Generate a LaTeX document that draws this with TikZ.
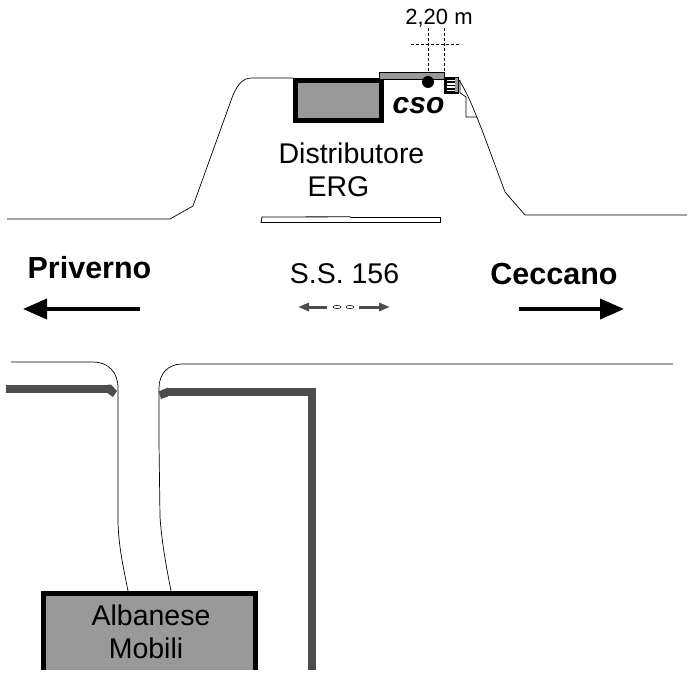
\documentclass[tikz,border=0pt]{standalone}
\usepackage{fontspec}
\setmainfont{Liberation Sans}
\usetikzlibrary{arrows.meta}
\definecolor{muro}{HTML}{4D4D4D}
\definecolor{edificio}{HTML}{999999}
\begin{document}
\begin{tikzpicture}[
  x=1pt, y=-1pt,
  every node/.style={inner sep=0pt, anchor=base, text=black},
  etichetta/.style={font=\fontsize{28.5}{30}\selectfont},
  citta/.style={font=\bfseries\fontsize{30.5}{32}\selectfont},
  strada/.style={draw=black, line width=0.7pt},
  muretto/.style={draw=muro, line width=8.5pt},
  blocco/.style={draw=black, fill=edificio, line width=4.5pt},
  freccia/.style={draw=black, line width=3.8pt, -{Triangle[length=24pt, width=20pt]}},
  frecciola/.style={draw=muro, line width=3pt, -{Triangle[length=11pt, width=8pt]}},
  quota/.style={draw=black, line width=0.6pt, densely dashed}
]
\useasboundingbox (0,0) rectangle (700,700);
% strada, lato nord
\draw[strada] (7,219) -- (170,219) -- (193,206) -- (233,95) .. controls (238,84) and (243,78) .. (252,78) -- (293,78);
\draw[strada] (459,80) .. controls (468,94) and (474,110) .. (482,130) -- (505,192) -- (525,215) -- (687,215);
\draw[strada] (460,80) -- (460,93) -- (466,97) -- (466,117) -- (477,117);
% distributore
\draw[blocco] (295.5,80.5) rectangle (381.5,120.5);
\draw[draw=black, fill=edificio, line width=0.8pt] (379.5,72.5) rectangle (444.5,79);
\node[fill=black, circle, minimum size=12pt] (pompa) at (428,82) {};
\fill[black] (444,77) rectangle (459,94);
\fill[white] (447,80) rectangle (455,91);
\fill[edificio] (455,78.5) rectangle (458,92.5);
\foreach \yy in {82,85.5,89} \draw[black, line width=1.4pt] (447,\yy) -- (455,\yy);
% quota
\draw[quota] (428,28) -- (428,72);
\draw[quota] (444,28) -- (444,72);
\draw[quota] (411,44) -- (461,44);
\node[font=\fontsize{22}{24}\selectfont] (misura) at (439,25) {2,20 m};
\node[font=\bfseries\itshape\fontsize{30}{30}\selectfont] (cso) at (418.5,114) {cso};
\node[etichetta] (distributore) at (351.5,164) {Distributore};
\node[etichetta] (erg) at (338.5,197) {ERG};
% spartitraffico
\draw[draw=black, line width=0.8pt, fill=white] (261,222.5) -- (262,217) -- (350,216.8) -- (351,217.5) -- (440.5,217.5) -- (440.5,222.5) -- cycle;
\node[etichetta] (statale) at (344.5,283) {S.S. 156};
\node[citta] (priverno) at (89.5,278) {Priverno};
\node[citta] (ceccano) at (554,284) {Ceccano};
\coordinate (pa) at (140,309);
\coordinate (pb) at (23,309);
\coordinate (ca) at (519,309);
\coordinate (cb) at (624,309);
\draw[freccia] (pa) -- (pb);
\draw[freccia] (ca) -- (cb);
% frecce piccole
\coordinate (sa) at (327,307);
\coordinate (sb) at (298,307);
\coordinate (da) at (359,307);
\coordinate (db) at (390,307);
\draw[frecciola] (sa) -- (sb);
\draw[frecciola] (da) -- (db);
\foreach \xx in {337,350} \draw[black, line width=0.6pt] (\xx,307) ellipse (4 and 1.6);
% traversa
\draw[strada] (11,362) -- (93,362) .. controls (108,362) and (118,372) .. (118,388) -- (118,523) .. controls (119,550) and (124,570) .. (128,591);
\draw[strada] (673,364) -- (182,364) .. controls (168,364) and (159,374) .. (159,388) -- (159,443) -- (160,517) .. controls (162,545) and (167,570) .. (171,591);
% muri
\draw[muretto] (6,389) -- (112,389);
\fill[muro] (108,384.5) -- (111,384.5) -- (117,391) -- (113,397) -- (108,393.5) -- cycle;
\draw[muretto] (166,392) -- (312,392) -- (312,670);
\fill[muro] (168,387.5) -- (158.5,391.5) -- (161,399) -- (168,396.5) -- cycle;
% albanese
\fill[edificio] (43,593) rectangle (256,670);
\draw[draw=black, line width=5pt] (43.5,670) -- (43.5,593.5) -- (255.5,593.5) -- (255.5,670);
\node[etichetta] (albanese) at (151,625) {Albanese};
\node[etichetta] (mobili) at (146,658) {Mobili};
\end{tikzpicture}
\end{document}
